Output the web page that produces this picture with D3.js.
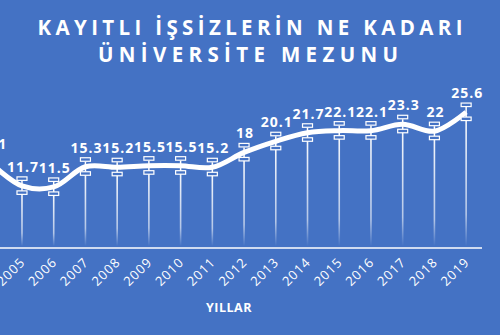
<!DOCTYPE html>
<html>
<head>
<meta charset="utf-8">
<title>Kayıtlı işsizlerin ne kadarı üniversite mezunu</title>
<script src="https://d3js.org/d3.v7.min.js"></script>
<style>
body { margin:0; padding:0; background:#4472C4; overflow:hidden; }
svg { display:block; }
text { font-family:'Open Sans', sans-serif; fill:#fff; }
</style>
</head>
<body>
<svg id="chart" width="500" height="335"></svg>
<script>

// years (the first one sits just off the left edge, as in the source)
var years = ['2004','2005','2006','2007','2008','2009','2010','2011','2012','2013','2014','2015','2016','2017','2018','2019'];
var values = [16.1, 11.7, 11.5, 15.3, 15.2, 15.5, 15.5, 15.2, 18, 20.1, 21.7, 22.1, 22.1, 23.3, 22, 25.6];
var titleLines = ['KAYITLI İŞSİZLERİN NE KADARI', 'ÜNİVERSİTE MEZUNU'];
var axisTitle = 'YILLAR';

var width = 500, height = 335;
var blue = '#4472C4';

var svg = d3.select('#chart');

svg.append('rect')
	.attr('width', width)
	.attr('height', height)
	.attr('fill', blue);

// gradient for the drop lines
var defs = svg.append('defs');
var grad = defs.append('linearGradient')
	.attr('id', 'dropFade')
	.attr('x1', 0).attr('y1', 0)
	.attr('x2', 0).attr('y2', 1);
grad.append('stop').attr('offset', '0%').attr('stop-color', '#fff').attr('stop-opacity', 0.95);
grad.append('stop').attr('offset', '75%').attr('stop-color', '#fff').attr('stop-opacity', 0.6);
grad.append('stop').attr('offset', '100%').attr('stop-color', '#fff').attr('stop-opacity', 0);

// title
svg.selectAll('.title')
	.data(titleLines)
	.enter()
	.append('text')
	.attr('class', 'title')
	.attr('x', function(d, i) { return i == 0 ? 250 : 248 })
	.attr('y', function(d, i) { return 35 + i * 27 })
	.attr('text-anchor', 'middle')
	.attr('font-size', 20.5)
	.attr('font-weight', 700)
	.attr('textLength', function(d, i) { return i == 0 ? 425 : 300 })
	.attr('lengthAdjust', 'spacing')
	.text(function(d) { return d });

var x = d3.scaleBand()
	.domain(years)
	.range([-25.6, 482]);

var y = d3.scaleLinear()
	.domain([0, 30])
	.range([248, 88.7]);

function cx(d) { return x(d) + x.bandwidth() / 2 }

// drop lines
svg.selectAll('.drop')
	.data(years)
	.enter()
	.append('rect')
	.attr('class', 'drop')
	.attr('x', function(d) { return cx(d) - 0.8 })
	.attr('y', function(d, i) { return y(values[i]) + 8 })
	.attr('width', 1.6)
	.attr('height', function(d, i) { return y(0) - y(values[i]) - 10 })
	.attr('fill', 'url(#dropFade)');

// x axis
var xAxis = svg.append('g')
	.attr('transform', 'translate(0,' + y(0) + ')')
	.call(d3.axisBottom(x).tickSize(0).tickPadding(0));

xAxis.select('.domain').remove();
xAxis.append('line')
	.attr('x1', x.range()[0])
	.attr('x2', x.range()[1])
	.attr('stroke', '#fff')
	.attr('stroke-width', 1.5);

xAxis.selectAll('.tick text')
	.attr('fill', '#e4ebf7')
	.attr('font-size', 13)
	.attr('letter-spacing', 1)
	.attr('text-anchor', 'end')
	.attr('dy', null)
	.attr('y', 0)
	.attr('transform', 'translate(4,15) rotate(-45)');

svg.append('text')
	.attr('x', 229)
	.attr('y', 312)
	.attr('text-anchor', 'middle')
	.attr('font-size', 12.5)
	.attr('font-weight', 700)
	.attr('letter-spacing', 0.5)
	.text(axisTitle);

// line
var line = d3.line()
	.x(function(d, i) { return cx(years[i]) })
	.y(function(d) { return y(d) })
	.curve(d3.curveCatmullRom.alpha(0.5));

svg.append('path')
	.datum(values)
	.attr('d', line)
	.attr('fill', 'none')
	.attr('stroke', '#fff')
	.attr('stroke-width', 5)
	.attr('stroke-linejoin', 'round');

// markers
var marks = svg.selectAll('.mark')
	.data(years)
	.enter()
	.append('g')
	.attr('class', 'mark')
	.attr('transform', function(d, i) { return 'translate(' + cx(d) + ',' + y(values[i]) + ')' });

marks.append('line')
	.attr('y1', -5).attr('y2', 5)
	.attr('stroke', '#fff')
	.attr('stroke-width', 1.5);

marks.append('rect')
	.attr('x', -5).attr('y', -9)
	.attr('width', 10).attr('height', 3.5)
	.attr('fill', blue)
	.attr('stroke', '#fff')
	.attr('stroke-width', 1.2);

marks.append('rect')
	.attr('x', -5).attr('y', 5)
	.attr('width', 10).attr('height', 3.5)
	.attr('fill', blue)
	.attr('stroke', '#fff')
	.attr('stroke-width', 1.2);

// value labels
svg.selectAll('.val')
	.data(values)
	.enter()
	.append('text')
	.attr('class', 'val')
	.attr('x', function(d, i) { return cx(years[i]) + 1 })
	.attr('y', function(d) { return y(d) - 14 })
	.attr('text-anchor', 'middle')
	.attr('font-size', 14)
	.attr('font-weight', 700)
	.attr('letter-spacing', 1)
	.text(function(d) { return d });

</script>
</body>
</html>
